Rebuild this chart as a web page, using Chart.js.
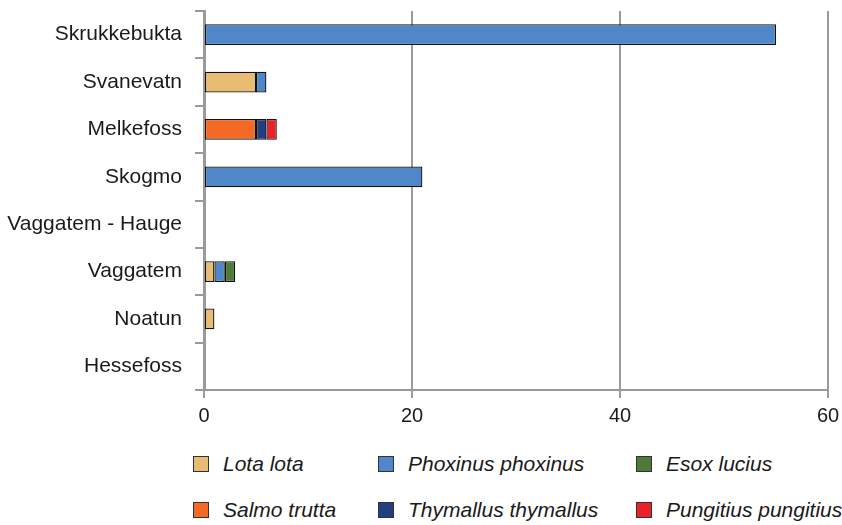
<!DOCTYPE html>
<html lang="en">
<head>
<meta charset="UTF-8">
<title>Fish species per site</title>
<script src="https://cdn.jsdelivr.net/npm/chart.js"></script>
<style>
  html, body { margin: 0; padding: 0; background: #fff; }
  body { width: 842px; height: 525px; position: relative; overflow: hidden; font-family: "Liberation Sans", Arial, sans-serif; }
  #wrap { position: absolute; left: 0; top: 0; width: 842px; height: 440px; }
  .leg { position: absolute; display: flex; align-items: center; font-style: italic; font-size: 21px; color: #1a1a1a; white-space: nowrap; }
  .leg i { display: inline-block; width: 16px; height: 16px; border: 1px solid #333; margin-right: 14px; box-sizing: border-box; }
</style>
</head>
<body>
<div id="wrap"><canvas id="chart"></canvas></div>
<div id="legend"></div>
<script>
  // sites (top to bottom)
  const sites = ['Skrukkebukta', 'Svanevatn', 'Melkefoss', 'Skogmo', 'Vaggatem - Hauge', 'Vaggatem', 'Noatun', 'Hessefoss'];
  const species = ['Lota lota', 'Phoxinus phoxinus', 'Esox lucius', 'Salmo trutta', 'Thymallus thymallus', 'Pungitius pungitius'];
  const colors = ['#E8BD72', '#4F87C8', '#4E7B39', '#F46A25', '#213F82', '#EC2127'];

  // counts per species, same order as sites
  const lota      = [0, 5, 0, 0, 0, 1, 1, 0];
  const phoxinus  = [55, 1, 0, 21, 0, 1, 0, 0];
  const esox      = [0, 0, 0, 0, 0, 1, 0, 0];
  const salmo     = [0, 0, 5, 0, 0, 0, 0, 0];
  const thymallus = [0, 0, 1, 0, 0, 0, 0, 0];
  const pungitius = [0, 0, 1, 0, 0, 0, 0, 0];

  const xTicks = [0, 20, 40, 60];
  // stacking order as seen in the bars
  const stackOrder = [[salmo, 3], [lota, 0], [phoxinus, 1], [thymallus, 4], [esox, 2], [pungitius, 5]];

  const datasets = stackOrder.map(([vals, i]) => ({
    label: species[i],
    data: vals,
    backgroundColor: colors[i],
    borderColor: '#111',
    borderWidth: 1.3,
    borderSkipped: false,
    categoryPercentage: 0.44,
    barPercentage: 1
  }));

  new Chart(document.getElementById('chart'), {
    type: 'bar',
    data: { labels: sites, datasets: datasets },
    options: {
      indexAxis: 'y',
      responsive: true,
      maintainAspectRatio: false,
      animation: false,
      layout: { padding: { left: 0, right: 14, top: 11, bottom: 0 } },
      plugins: { legend: { display: false }, tooltip: { enabled: false } },
      scales: {
        x: {
          stacked: true,
          min: 0, max: 60,
          afterBuildTicks: s => { s.ticks = xTicks.map(v => ({ value: v })); },
          afterFit: s => { s.height = 50; s.paddingLeft = 0; s.paddingRight = 0; },
          grid: { color: '#9a9a9a', lineWidth: 2, tickLength: 8, tickColor: '#9a9a9a' },
          border: { display: true, color: '#9a9a9a', width: 2 },
          ticks: { color: '#1a1a1a', font: { family: 'Liberation Sans', size: 20 }, padding: 6, maxRotation: 0 }
        },
        y: {
          stacked: true,
          afterFit: s => { s.width = 204; s.paddingTop = 0; s.paddingBottom = 0; },
          grid: { drawOnChartArea: false, offset: true, tickLength: 9, color: '#9a9a9a', lineWidth: 2 },
          border: { display: true, color: '#9a9a9a', width: 3 },
          ticks: { color: '#1a1a1a', font: { family: 'Liberation Sans', size: 21 }, padding: 13 }
        }
      }
    }
  });

  // legend in the reference's three-column grid
  const legendPos = [[193, 452], [378, 452], [636, 452], [193, 498], [378, 498], [636, 498]];
  const legend = document.getElementById('legend');
  species.forEach((name, i) => {
    const d = document.createElement('div');
    d.className = 'leg';
    d.style.left = legendPos[i][0] + 'px';
    d.style.top = legendPos[i][1] + 'px';
    d.innerHTML = '<i style="background:' + colors[i] + '"></i>' + name;
    legend.appendChild(d);
  });
</script>
</body>
</html>
